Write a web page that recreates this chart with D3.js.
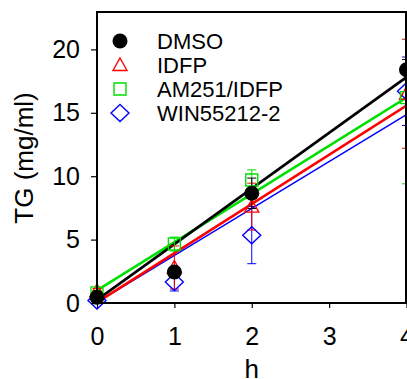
<!DOCTYPE html>
<html lang="en">
<head>
    <meta charset="UTF-8">
    <title>TG time course</title>
    <script src="https://d3js.org/d3.v7.min.js"></script>
</head>
<body>
    <div id="container"></div>
</body>

<style>
body {
    margin: 0;
    background: #fff;
}
svg text {
    font-family: "Liberation Sans", Arial, sans-serif;
    fill: #000;
}
</style>

<script>
    // 数据
    const hours = [0, 1, 2, 4]
    const seriesNames = ['DMSO', 'IDFP', 'AM251/IDFP', 'WIN55212-2']
    const seriesColors = ['#000000', '#ff0000', '#00e000', '#0000ff']

    const dmso = [0.45, 2.45, 8.65, 18.4]
    const dmsoErr = [0.2, 0.4, 1.2, 0.8]
    const idfp = [0.95, 2.8, 7.6, 16.5]
    const idfpErr = [0.2, 1.7, 1.85, 4.3]
    const am251 = [0.8, 4.65, 9.7, 16.2]
    const am251Err = [0.2, 0.55, 0.8, 6.8]
    const win = [0.2, 1.65, 5.35, 16.7]
    const winErr = [0.1, 0.7, 2.25, 2.7]

    // 线性回归线 (截距, 斜率)
    const fitIntercept = [0.25, 0.05, 1.0, 0.05]
    const fitSlope = [4.39, 3.88, 3.8, 3.7]

    const xTicks = [0, 1, 2, 3, 4]
    const yTicks = [0, 5, 10, 15, 20]

    const values = [dmso, idfp, am251, win]
    const errors = [dmsoErr, idfpErr, am251Err, winErr]

    const width = 407
    const height = 379
    const plotLeft = 97, plotRight = 406.5, plotTop = 12, plotBottom = 303

    const svg = d3.select('#container')
        .append('svg')
        .attr('width', width)
        .attr('height', height)

    const x = d3.scaleLinear().domain([0, 4]).range([plotLeft, plotRight])
    const y = d3.scaleLinear().domain([0, 22.95]).range([plotBottom, plotTop])

    svg.append('defs').append('clipPath')
        .attr('id', 'plotClip')
        .append('rect')
        .attr('x', 0).attr('y', plotTop)
        .attr('width', width).attr('height', plotBottom - plotTop + 20)

    // 标记形状
    function markerPath(i) {
        if (i === 1) {
            return 'M0,-7L7,5.5L-7,5.5Z'
        }
        if (i === 2) {
            return 'M-6,-6H6V6H-6Z'
        }
        if (i === 3) {
            return 'M0,-8.5L9,0L0,8.5L-9,0Z'
        }
        return null
    }

    function drawMarker(g, i, cx, cy) {
        if (i === 0) {
            g.append('circle')
                .attr('cx', cx).attr('cy', cy).attr('r', 7.5)
                .attr('fill', seriesColors[0])
        } else {
            g.append('path')
                .attr('d', markerPath(i))
                .attr('transform', 'translate(' + cx + ',' + cy + ')')
                .attr('fill', 'none')
                .attr('stroke', seriesColors[i])
                .attr('stroke-width', 1.4)
        }
    }

    // 回归线
    const lineG = svg.append('g')
    const lineWidths = [2.6, 2.6, 2.6, 1.5]
    const drawOrder = [3, 1, 2, 0]
    drawOrder.forEach(function(i) {
        lineG.append('line')
            .attr('x1', x(0)).attr('y1', y(fitIntercept[i]))
            .attr('x2', x(4)).attr('y2', y(fitIntercept[i] + fitSlope[i] * 4))
            .attr('stroke', seriesColors[i])
            .attr('stroke-width', lineWidths[i])
    })

    // 误差棒和数据点
    const pointG = svg.append('g').attr('clip-path', 'url(#plotClip)')
    drawOrder.forEach(function(i) {
        const eg = pointG.append('g')
            .attr('stroke', seriesColors[i])
            .attr('stroke-width', 1)
        hours.forEach(function(h, j) {
            const v = values[i][j], e = errors[i][j]
            const cx = x(h)
            eg.append('line')
                .attr('x1', cx).attr('x2', cx)
                .attr('y1', y(v - e)).attr('y2', y(v + e))
            ;[v - e, v + e].forEach(function(ev) {
                eg.append('line')
                    .attr('x1', cx - 4.5).attr('x2', cx + 4.5)
                    .attr('y1', y(ev)).attr('y2', y(ev))
            })
        })
    })
    drawOrder.forEach(function(i) {
        hours.forEach(function(h, j) {
            drawMarker(pointG, i, x(h), y(values[i][j]))
        })
    })

    // 坐标轴
    const xAxis = svg.append('g')
        .attr('transform', 'translate(0,' + plotBottom + ')')
        .call(d3.axisBottom(x).tickValues(xTicks).tickSize(5).tickPadding(19).tickFormat(d3.format('d')))
    const yAxis = svg.append('g')
        .attr('transform', 'translate(' + plotLeft + ',0)')
        .call(d3.axisLeft(y).tickValues(yTicks).tickSize(6).tickPadding(11).tickFormat(d3.format('d')))

    ;[xAxis, yAxis].forEach(function(a) {
        a.select('.domain').remove()
        a.selectAll('.tick line').attr('stroke', '#000').attr('stroke-width', 1.2)
        a.selectAll('.tick text')
            .attr('fill', '#000')
            .style('font-size', '25px')
            .style('font-family', '"Liberation Sans", Arial, sans-serif')
    })

    // 边框
    svg.append('rect')
        .attr('x', plotLeft).attr('y', plotTop)
        .attr('width', plotRight - 0.5 - plotLeft).attr('height', plotBottom - plotTop)
        .attr('fill', 'none')
        .attr('stroke', '#000')
        .attr('stroke-width', 2)

    // 轴标题
    svg.append('text')
        .attr('x', x(2))
        .attr('y', 378)
        .attr('text-anchor', 'middle')
        .style('font-size', '26px')
        .text('h')

    svg.append('text')
        .attr('transform', 'translate(33,158) rotate(-90)')
        .attr('text-anchor', 'middle')
        .style('font-size', '26px')
        .text('TG (mg/ml)')

    // 图例
    const legend = svg.append('g')
    seriesNames.forEach(function(name, i) {
        const ly = 41 + i * 24
        drawMarker(legend, i, 120, ly)
        legend.append('text')
            .attr('x', 157)
            .attr('y', ly + 7.5)
            .style('font-size', '22px')
            .text(name)
    })
</script>
</html>
